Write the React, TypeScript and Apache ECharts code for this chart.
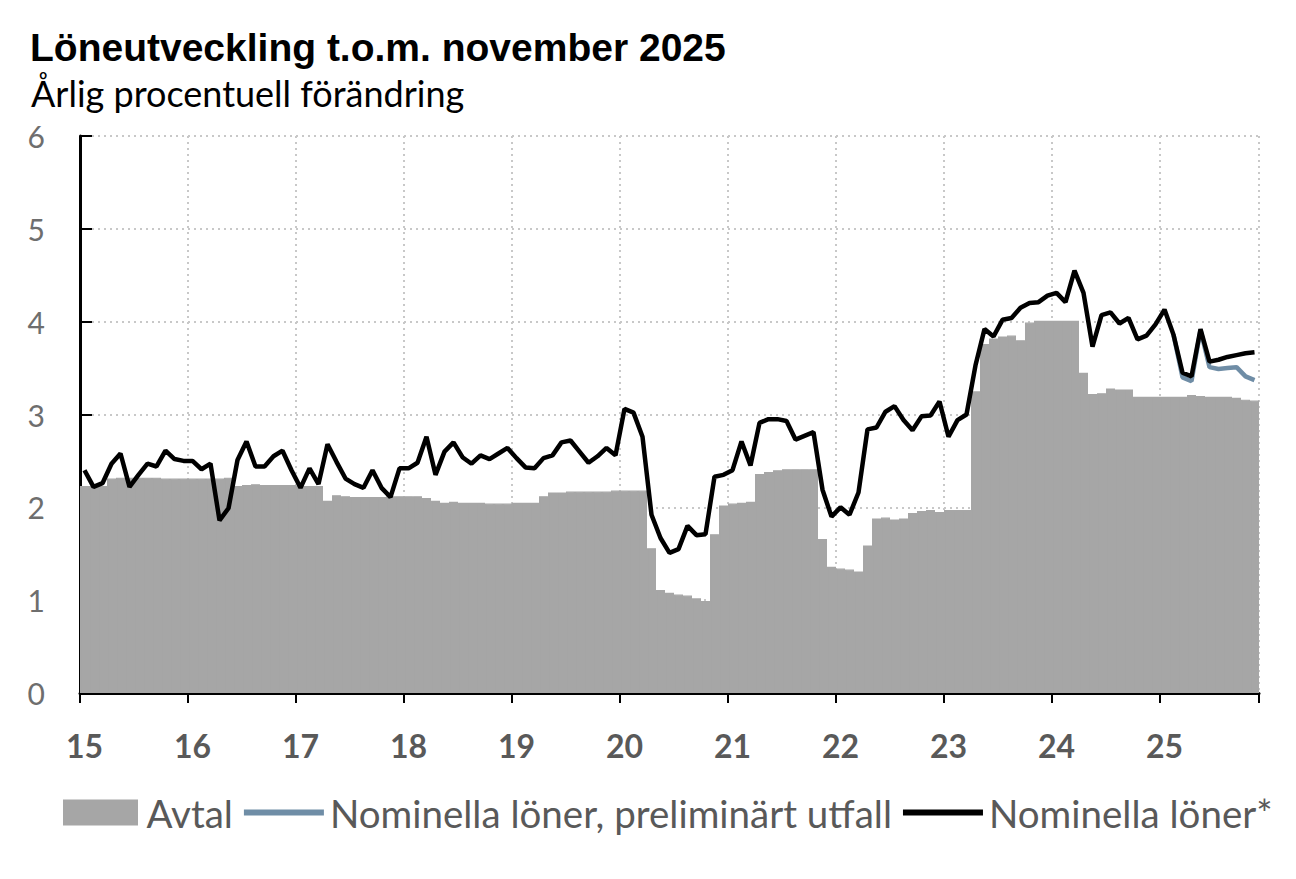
import React, { useEffect, useRef } from 'react';
import * as echarts from 'echarts';

// Månader jan 2015 – nov 2025
const years = ['15', '16', '17', '18', '19', '20', '21', '22', '23', '24', '25'];
const months = years.flatMap((y) =>
  ['01', '02', '03', '04', '05', '06', '07', '08', '09', '10', '11', '12'].map((m) => `20${y}-${m}`)
).slice(0, 131);

// Avtal (staplar)
const avtal = [
  2.23, 2.23, 2.23, 2.31, 2.32, 2.32, 2.32, 2.32, 2.32, 2.31, 2.31, 2.31, // 2015
  2.31, 2.31, 2.31, 2.31, 2.32, 2.23, 2.24, 2.25, 2.24, 2.24, 2.24, 2.24, // 2016
  2.23, 2.23, 2.23, 2.07, 2.13, 2.12, 2.11, 2.11, 2.11, 2.11, 2.12, 2.12, // 2017
  2.12, 2.12, 2.10, 2.07, 2.05, 2.06, 2.05, 2.05, 2.05, 2.04, 2.04, 2.04, // 2018
  2.05, 2.05, 2.05, 2.12, 2.16, 2.16, 2.17, 2.17, 2.17, 2.17, 2.17, 2.18, // 2019
  2.18, 2.18, 2.18, 1.56, 1.11, 1.08, 1.06, 1.05, 1.02, 0.99, 1.71, 2.02, // 2020
  2.04, 2.05, 2.06, 2.36, 2.38, 2.40, 2.41, 2.41, 2.41, 2.41, 1.66, 1.36, // 2021
  1.34, 1.33, 1.31, 1.59, 1.88, 1.89, 1.87, 1.88, 1.94, 1.96, 1.97, 1.95, // 2022
  1.97, 1.97, 1.97, 3.25, 3.76, 3.82, 3.84, 3.85, 3.80, 3.99, 4.01, 4.01, // 2023
  4.01, 4.01, 4.01, 3.45, 3.22, 3.23, 3.28, 3.27, 3.27, 3.19, 3.19, 3.19, // 2024
  3.19, 3.19, 3.19, 3.21, 3.20, 3.19, 3.19, 3.19, 3.18, 3.16, 3.15, // 2025
];

// Nominella löner*
const nominella = [
  2.40, 2.22, 2.26, 2.47, 2.58, 2.22, 2.35, 2.47, 2.44, 2.61, 2.52, 2.50,
  2.50, 2.41, 2.47, 1.86, 1.99, 2.51, 2.71, 2.44, 2.44, 2.55, 2.61, 2.40,
  2.21, 2.42, 2.25, 2.68, 2.49, 2.31, 2.25, 2.21, 2.40, 2.21, 2.11, 2.42,
  2.42, 2.48, 2.76, 2.35, 2.60, 2.70, 2.54, 2.47, 2.56, 2.52, 2.58, 2.64,
  2.53, 2.43, 2.42, 2.53, 2.56, 2.70, 2.72, 2.60, 2.48, 2.55, 2.64, 2.56,
  3.06, 3.02, 2.76, 1.92, 1.67, 1.51, 1.55, 1.80, 1.70, 1.71, 2.33, 2.35,
  2.40, 2.71, 2.45, 2.91, 2.95, 2.95, 2.93, 2.73, 2.77, 2.81, 2.19, 1.90,
  2.00, 1.92, 2.16, 2.84, 2.86, 3.03, 3.09, 2.94, 2.83, 2.98, 2.99, 3.14,
  2.76, 2.94, 3.00, 3.53, 3.92, 3.84, 4.02, 4.04, 4.15, 4.20, 4.21, 4.28,
  4.31, 4.21, 4.55, 4.31, 3.73, 4.07, 4.10, 3.98, 4.04, 3.81, 3.85, 3.97,
  4.13, 3.86, 3.45, 3.41, 3.92, 3.57, 3.59, 3.62, 3.64, 3.66, 3.67,
];

// Nominella löner, preliminärt utfall (feb 2025 – nov 2025)
const prelStart = 121;
const preliminart = [3.86, 3.40, 3.36, 3.91, 3.51, 3.49, 3.50, 3.51, 3.41, 3.37];

const yTicks = ['0', '1', '2', '3', '4', '5', '6'];

const GREY = '#a6a6a6';
const BLUE = '#6f8da6';
const TEXT = '#595959';

const App: React.FC = () => {
  const chartRef = useRef<HTMLDivElement>(null);

  useEffect(() => {
    document.body.style.margin = '0';
    const chart = echarts.init(chartRef.current!, null, { renderer: 'svg' });

    const prelData = months.map((_, i) => (i >= prelStart ? preliminart[i - prelStart] : null));

    const option = {
      animation: false,
      backgroundColor: '#fff',
      title: [
        {
          text: 'Löneutveckling t.o.m. november 2025',
          left: 25,
          top: 23,
          textStyle: { fontFamily: 'Liberation Sans', fontWeight: 'bold', fontSize: 39, color: '#000' },
        },
        {
          text: 'Årlig procentuell förändring',
          left: 26,
          top: 70,
          textStyle: { fontFamily: 'Lato', fontWeight: 'normal', fontSize: 36, color: '#000' },
        },
      ],
      legend: {
        left: 58,
        top: 788,
        itemWidth: 80,
        itemHeight: 24,
        itemGap: 11,
        selectedMode: false,
        textStyle: { fontFamily: 'Lato', fontSize: 38.5, color: TEXT, padding: [0, 0, 0, 1] },
        data: [
          { name: 'Avtal', icon: 'path://M0,0H73V24H0Z' },
          { name: 'Nominella löner, preliminärt utfall', icon: 'path://M0,0H80V6H0Z' },
          { name: 'Nominella löner*', icon: 'path://M0,0H80V6H0Z' },
        ],
      },
      grid: { left: 80, right: 37, top: 136, bottom: 186, containLabel: false },
      xAxis: {
        type: 'category',
        data: months,
        boundaryGap: true,
        axisLine: { show: true, lineStyle: { color: '#000', width: 3 } },
        axisTick: {
          show: true,
          length: 10,
          interval: (index: number) => index % 12 === 0,
          lineStyle: { color: '#000', width: 2 },
        },
        axisLabel: {
          interval: (index: number) => index % 12 === 0,
          formatter: (v: string) => years[parseInt(v.slice(0, 4), 10) - 2015],
          fontFamily: 'Lato',
          fontWeight: 'bold',
          fontSize: 32,
          color: TEXT,
          margin: 36,
        },
        splitLine: {
          show: true,
          interval: (index: number) => index % 12 === 0 && index > 0,
          lineStyle: { color: '#c8c8c8', type: [2, 4], width: 2 },
        },
      },
      yAxis: {
        type: 'value',
        min: 0,
        max: 6,
        interval: 1,
        axisLine: { show: true, lineStyle: { color: '#000', width: 3 } },
        axisTick: { show: true, inside: true, length: 12, lineStyle: { color: '#000', width: 2 } },
        axisLabel: {
          formatter: (v: number) => yTicks[v],
          fontFamily: 'Lato',
          fontSize: 30,
          color: '#6e6e6e',
          margin: 35,
        },
        splitLine: { show: true, lineStyle: { color: '#c8c8c8', type: [2, 4], width: 2 } },
      },
      series: [
        {
          name: 'Avtal',
          type: 'bar',
          data: avtal,
          barWidth: '100%',
          barGap: '0%',
          itemStyle: { color: GREY, borderColor: GREY, borderWidth: 1.2 },
          z: 1,
        },
        {
          name: 'Nominella löner, preliminärt utfall',
          type: 'line',
          data: prelData,
          symbol: 'none',
          itemStyle: { color: BLUE },
          lineStyle: { color: BLUE, width: 4.5 },
          z: 2,
        },
        {
          name: 'Nominella löner*',
          type: 'line',
          data: nominella,
          symbol: 'none',
          itemStyle: { color: '#000' },
          lineStyle: { color: '#000', width: 4.5 },
          z: 3,
        },
      ],
    };

    chart.setOption(option);
    return () => {
      chart.dispose();
    };
  }, []);

  return <div ref={chartRef} style={{ width: '1296px', height: '879px' }} />;
};

export default App;
